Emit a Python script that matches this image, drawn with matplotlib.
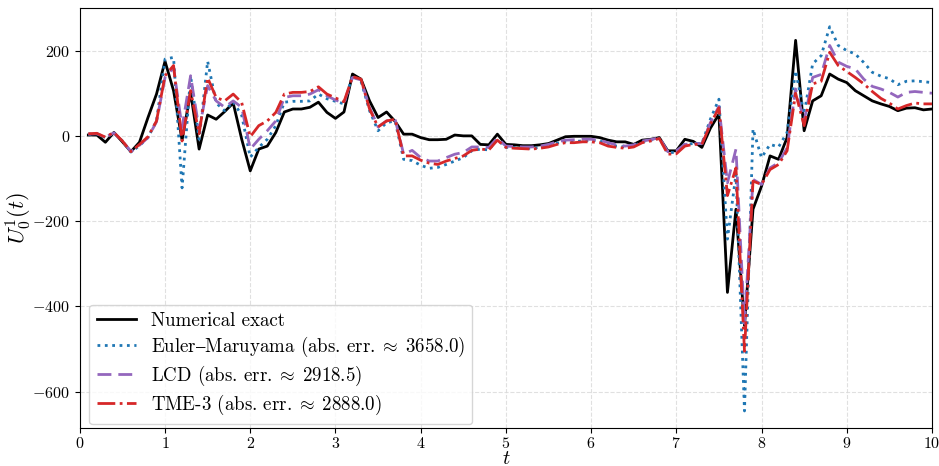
import numpy as np
import matplotlib
matplotlib.use("Agg")
import matplotlib.pyplot as plt

plt.rcParams['font.family'] = ['cmr10', 'DejaVu Serif']
plt.rcParams['mathtext.fontset'] = 'cm'
plt.rcParams['axes.formatter.use_mathtext'] = True

t = np.round(np.arange(1, 101) * 0.1, 1)

exact = [2, 2, -15, 8, -14, -37, -15, 43, 98, 175,
         106, -10, 102, -31, 49, 39, 57, 77, -8, -82,
         -31, -24, 8, 56, 63, 63, 67, 79, 55, 41,
         56, 145, 133, 82, 43, 56, 34, 4, 4, -4,
         -9, -9, -8, 2, 0, 0, -20, -21, 4, -20,
         -21, -23, -23, -21, -18, -10, -2, -1, -1, -1,
         -4, -10, -14, -14, -20, -10, -8, -4, -35, -35,
         -8, -13, -27, 18, 51, -367, -172, -445, -172, -118,
         -47, -55, -4, 224, 12, 82, 94, 145, 133, 125,
         106, 94, 82, 75, 69, 59, 65, 66, 61, 63]

euler = [4, 5, -4, 7, -12, -38, -23, -4, 35, 180,
         184, -122, 141, -8, 175, 77, 59, 80, 48, -50,
         -27, -8, 24, 79, 81, 81, 82, 98, 87, 81,
         75, 141, 128, 59, 12, 31, 35, -55, -58, -69,
         -76, -74, -67, -59, -51, -35, -31, -33, -8, -27,
         -27, -29, -29, -27, -24, -17, -13, -13, -12, -10,
         -12, -18, -24, -26, -24, -14, -10, -6, -39, -39,
         -20, -18, -18, 39, 86, -242, -90, -645, 16, -51,
         -20, -26, 8, 153, 51, 169, 188, 256, 212, 200,
         192, 172, 149, 140, 134, 120, 128, 129, 127, 125]

lcd = [4, 5, -3, 7, -12, -37, -22, -4, 33, 137,
       160, 20, 141, 15, 118, 82, 67, 82, 67, -31,
       -8, 12, 35, 90, 94, 94, 98, 108, 94, 84,
       77, 137, 131, 67, 21, 35, 39, -43, -34, -51,
       -59, -59, -51, -43, -39, -26, -26, -27, -5, -24,
       -25, -26, -26, -24, -20, -14, -10, -9, -8, -8,
       -10, -16, -21, -24, -21, -12, -9, -4, -37, -35,
       -20, -18, -18, 31, 69, -110, -31, -440, -102, -114,
       -75, -63, -28, 110, 35, 137, 144, 212, 173, 163,
       157, 133, 116, 110, 102, 91, 102, 104, 102, 100]

tme = [5, 6, -3, 8, -12, -37, -20, -2, 35, 141,
       165, -12, 106, 5, 136, 90, 82, 98, 78, -2,
       24, 35, 55, 98, 102, 102, 104, 115, 98, 89,
       80, 139, 133, 63, 21, 35, 39, -47, -47, -57,
       -64, -67, -59, -53, -47, -34, -31, -33, -10, -27,
       -29, -30, -31, -29, -26, -20, -16, -16, -14, -14,
       -16, -24, -27, -29, -26, -16, -12, -6, -43, -42,
       -24, -20, -20, 27, 66, -140, -75, -505, -106, -114,
       -79, -67, -35, 100, 24, 122, 128, 196, 165, 151,
       137, 122, 104, 88, 77, 63, 71, 77, 75, 75]

labels = ["Numerical exact",
          "Euler$\\mathrm{\u2013}$Maruyama (abs. err.$\\;\\approx\\;$3658.0)",
          "LCD (abs. err.$\\;\\approx\\;$2918.5)",
          "TME-3 (abs. err.$\\;\\approx\\;$2888.0)"]

fig = plt.figure(figsize=(9.39, 4.66), dpi=100)
ax = fig.add_axes([0.085, 0.0815, 0.9075, 0.9015])

ax.plot(t, exact, color='black', lw=2, ls='-', label=labels[0])
ax.plot(t, euler, color='tab:blue', lw=2, ls=':', label=labels[1])
ax.plot(t, lcd, color='tab:purple', lw=2, ls=(0, (5, 2.5)), label=labels[2])
ax.plot(t, tme, color='tab:red', lw=2, ls='-.', label=labels[3])

ax.set_xlim(0, 10)
ax.set_ylim(-685, 300)
ax.set_xticks(range(0, 11))
ax.set_yticks([-600, -400, -200, 0, 200])
ax.grid(True, ls='--', lw=0.8, color='0.85', alpha=0.8)
ax.tick_params(labelsize=11.5)
ax.tick_params(axis='x', pad=2.5)
ax.set_xlabel('$t$', fontsize=14.5, labelpad=-1)
ax.set_ylabel('$U^1_0(t)$', fontsize=16, labelpad=-1.5)
ax.legend(loc='lower left', bbox_to_anchor=(0.0, -0.014), fontsize=13.6,
          handlelength=2.05, labelspacing=0.25)

fig.savefig('out.png', dpi=100)
